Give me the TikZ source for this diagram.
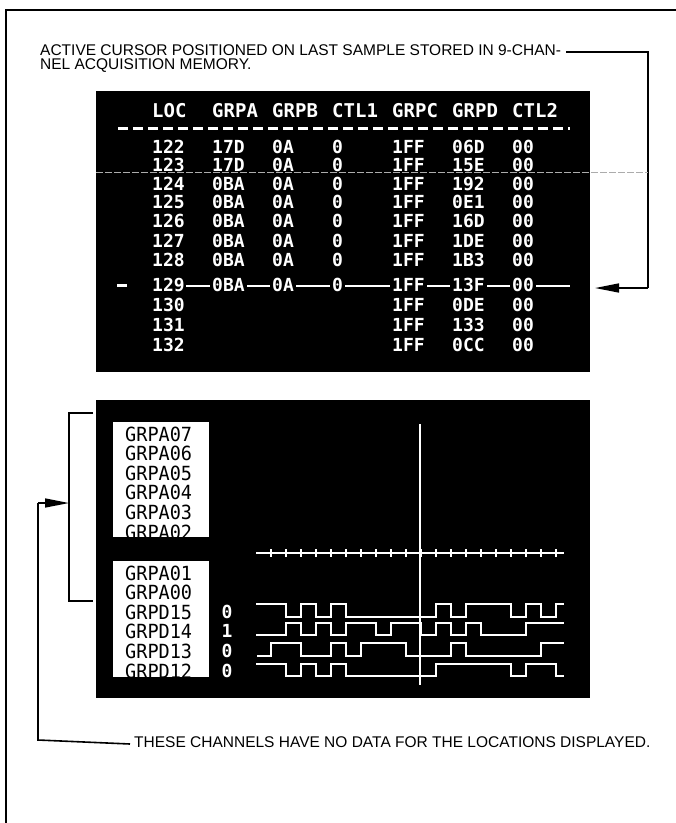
\documentclass[tikz,border=0pt]{standalone}
\usepackage{fontspec}
\setmainfont{Liberation Sans}
\newfontfamily\crt{DejaVu Sans Mono}
\newfontfamily\crtn[FakeStretch=0.95]{DejaVu Sans Mono}
\usetikzlibrary{arrows.meta}
\begin{document}
\begin{tikzpicture}[x=1pt,y=-1pt,
  capt/.style={font=\fontsize{15.5}{15.5}\selectfont, inner sep=0pt, anchor=west},
  hdr/.style={font=\crt\bfseries\fontsize{19}{19}\selectfont, text=white, inner sep=0pt, anchor=west},
  cell/.style={font=\crt\bfseries\fontsize{18}{18}\selectfont, text=white, inner sep=0pt, anchor=west},
  curcell/.style={cell, fill=black, inner xsep=2pt},
  lbl/.style={font=\crtn\fontsize{19.5}{19.5}\selectfont, text=black, inner sep=0pt, anchor=west},
  val/.style={font=\crt\bfseries\fontsize{18}{18}\selectfont, text=white, inner sep=0pt},
  leader/.style={line width=1.6pt, black},
  wave/.style={white, line width=2pt, line join=miter},
  tipr/.style={-{Triangle[length=24pt,width=9pt]}}
]
\useasboundingbox (0,0) rectangle (676,823);
\fill[white] (0,0) rectangle (676,823);
% frame
\draw[line width=1.2pt] (6,823) -- (6,10) -- (676,10);

% caption top
\node[capt] (cap1a) at (40,50.5) {ACTIVE CURSOR POSITIONED ON LAST SAMPLE STORED IN 9-CHAN-};
\node[capt] (cap1b) at (40,66) {NEL ACQUISITION MEMORY.};
\coordinate (r1) at (648,52);
\coordinate (r2) at (648,288);
\coordinate (tipR) at (595,288);
\draw[leader] ([xshift=5pt,yshift=-1.5pt]cap1a.east) -- (r1) -- (r2);
\draw[leader,tipr] (r2) -- (tipR);

% ===== top screen =====
\fill[black] (96,90.7) rectangle (590,372);
\foreach \t [count=\i from 0] in {LOC,GRPA,GRPB,CTL1,GRPC,GRPD,CTL2}
  \node[hdr] (h\i) at ({152+60*\i},111) {\t};
\draw[white, line width=2.5pt, dash pattern=on 10pt off 5pt] (118,128.5) -- (570,128.5);

\foreach \y/\a/\b/\c/\d/\e/\f/\g in {
  147/122/17D/0A/0/1FF/06D/00,
  165/123/17D/0A/0/1FF/15E/00,
  184/124/0BA/0A/0/1FF/192/00,
  202/125/0BA/0A/0/1FF/0E1/00,
  221/126/0BA/0A/0/1FF/16D/00,
  241/127/0BA/0A/0/1FF/1DE/00,
  260/128/0BA/0A/0/1FF/1B3/00}{
  \node[cell] (l\a) at (152,\y) {\a};
  \node[cell] (ga\a) at (212,\y) {\b};
  \node[cell] (gb\a) at (272,\y) {\c};
  \node[cell] (ca\a) at (332,\y) {\d};
  \node[cell] (gc\a) at (392,\y) {\e};
  \node[cell] (gd\a) at (452,\y) {\f};
  \node[cell] (cb\a) at (512,\y) {\g};
}
% cursor row 129
\coordinate (cl1) at (186,286);
\coordinate (cl2) at (570,286);
\draw[white, line width=2pt] (cl1) -- (cl2);
\draw[white, line width=3pt] (117,285) -- (127,285);
\node[cell] (l129) at (152,285) {129};
\node[curcell] (ga129) at (210,285) {0BA};
\node[curcell] (gb129) at (270,285) {0A};
\node[curcell] (ca129) at (330,285) {0};
\node[curcell] (gc129) at (390,285) {1FF};
\node[curcell] (gd129) at (450,285) {13F};
\node[curcell] (cb129) at (510,285) {00};
\foreach \y/\a/\e/\f/\g in {305/130/1FF/0DE/00, 325/131/1FF/133/00, 345/132/1FF/0CC/00}{
  \node[cell] (l\a) at (152,\y) {\a};
  \node[cell] (gc\a) at (392,\y) {\e};
  \node[cell] (gd\a) at (452,\y) {\f};
  \node[cell] (cb\a) at (512,\y) {\g};
}
% scan artifact line
\draw[gray!65, line width=0.7pt, dash pattern=on 7pt off 2pt] (96,172) -- (648,172);

% ===== lower screen =====
\fill[black] (96,400) rectangle (590,698);
\fill[white] (113,422) rectangle (209,537);
\fill[white] (113,561) rectangle (209,677);
\begin{scope}
  \clip (113,422) rectangle (209,537);
  \foreach \t [count=\i from 0] in {GRPA07,GRPA06,GRPA05,GRPA04,GRPA03,GRPA02}
    \node[lbl] (la\i) at (125,{434+19.6*\i}) {\t};
\end{scope}
\begin{scope}
  \clip (113,561) rectangle (209,677);
  \foreach \t/\yy [count=\i from 0] in {GRPA01/573,GRPA00/592.5,GRPD15/612,GRPD14/631,GRPD13/651,GRPD12/671}
    \node[lbl] (lb\i) at (125,\yy) {\t};
\end{scope}
\node[val] (v15) at (227,612) {0};
\node[val] (v14) at (227,631) {1};
\node[val] (v13) at (227,651) {0};
\node[val] (v12) at (227,671) {0};

% time axis
\draw[white, line width=1.8pt] (256,553) -- (564,553);
\foreach \n in {0,...,19}
  \draw[white, line width=1.4pt] ({271+15*\n},549) -- ({271+15*\n},557);
% cursor
\draw[white, line width=1.3pt] (420,424) -- (420,685);

% waveforms
\draw[wave] (256,604) -| (286,616.5) -| (301,604) -| (316,616.5) -| (331,604) -| (346,616.5)
  -| (436,604) -| (451,616.5) -| (466,604) -| (511,616.5) -| (526,604) -| (541,616.5) -| (556,604) -- (564,604);
\draw[wave] (256,635) -| (286,623.3) -| (301,635) -| (316,623.3) -| (331,635) -| (346,623.3)
  -| (376,635) -| (391,623.3) -| (421,635) -| (436,623.3) -| (451,635) -| (466,623.3) -| (481,635) -| (526,623.3) -- (564,623.3);
\draw[wave] (257,655.7) -| (271,643.3) -| (301,655.7) -| (331,643.3) -| (346,655.7) -| (361,643.3)
  -| (406,655.7) -| (451,643.3) -| (466,655.7) -| (541,643.3) -- (564,643.3);
\draw[wave] (256,664) -| (286,676) -| (301,664) -| (316,676) -| (331,664) -| (346,676)
  -| (436,664) -| (511,676) -| (526,664) -| (556,676) -- (564,676);

% bracket and left leader
\coordinate (bt) at (93,413);
\coordinate (bb) at (93,601);
\draw[leader] (bt) -- (69,413) -- (69,601) -- (bb);
\coordinate (lv) at (38,503);
\coordinate (lb) at (38,740);
\coordinate (brk) at (69,503);
\node[capt] (cap2) at (134,742) {THESE CHANNELS HAVE NO DATA FOR THE LOCATIONS DISPLAYED.};
\draw[leader] ([xshift=-4pt,yshift=-2pt]cap2.west) -- (lb) -- (lv);
\draw[leader,tipr] (lv) -- (brk);
\end{tikzpicture}
\end{document}
